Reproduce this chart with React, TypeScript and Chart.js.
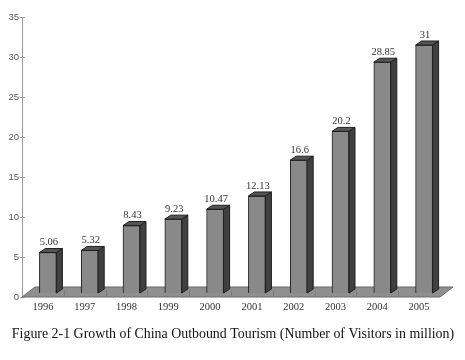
import React, { useEffect, useRef } from "react";
import { Chart, registerables } from "chart.js";

Chart.register(...registerables);

const years = ["1996", "1997", "1998", "1999", "2000", "2001", "2002", "2003", "2004", "2005"];
const visitors = [5.06, 5.32, 8.43, 9.23, 10.47, 12.13, 16.6, 20.2, 28.85, 31];
const valueLabels = ["5.06", "5.32", "8.43", "9.23", "10.47", "12.13", "16.6", "20.2", "28.85", "31"];
const yTicks = [0, 5, 10, 15, 20, 25, 30, 35];
const caption = "Figure 2-1 Growth of China Outbound Tourism (Number of Visitors in million)";

const SHIFT_X = 5;
const SHIFT_Y = -4;
const DEPTH_X = 6;
const DEPTH_Y = -4;
const FLOOR_X = 13;
const FLOOR_Y = -10;

const bar3d = {
  id: "bar3d",
  beforeDatasetsDraw(chart: any) {
    const { ctx, chartArea } = chart;
    const l = chartArea.left, r = chartArea.right, b = chartArea.bottom;
    ctx.save();
    ctx.beginPath();
    ctx.moveTo(l, b);
    ctx.lineTo(r, b);
    ctx.lineTo(r + FLOOR_X, b + FLOOR_Y);
    ctx.lineTo(l + FLOOR_X, b + FLOOR_Y);
    ctx.closePath();
    ctx.fillStyle = "#8f8f8f";
    ctx.fill();
    ctx.strokeStyle = "#6a6a6a";
    ctx.lineWidth = 1;
    ctx.stroke();
    const n = years.length;
    const w = (r - l) / n;
    ctx.strokeStyle = "#7a7a7a";
    for (let i = 1; i < n; i++) {
      const x = Math.round(l + w * i) + 0.5;
      ctx.beginPath();
      ctx.moveTo(x, b);
      ctx.lineTo(x, b - 6);
      ctx.stroke();
    }
    ctx.restore();
    const ys = chart.scales.y;
    ctx.save();
    ctx.strokeStyle = "#999";
    ctx.lineWidth = 1;
    yTicks.forEach((v) => {
      const y = Math.round(ys.getPixelForValue(v)) + 0.5;
      ctx.beginPath();
      ctx.moveTo(l - 2, y);
      ctx.lineTo(l + 3, y);
      ctx.stroke();
    });
    ctx.restore();
    ctx.save();
    ctx.translate(SHIFT_X, SHIFT_Y);
  },
  afterDatasetsDraw(chart: any) {
    const { ctx } = chart;
    ctx.restore();
    const meta = chart.getDatasetMeta(0);
    ctx.save();
    ctx.lineWidth = 1;
    ctx.strokeStyle = "#1e1e1e";
    meta.data.forEach((el: any, i: number) => {
      const h = el.width / 2;
      const x = el.x + SHIFT_X;
      const y = el.y + SHIFT_Y;
      const base = el.base + SHIFT_Y;
      ctx.beginPath();
      ctx.moveTo(x + h, y);
      ctx.lineTo(x + h + DEPTH_X, y + DEPTH_Y);
      ctx.lineTo(x + h + DEPTH_X, base + DEPTH_Y);
      ctx.lineTo(x + h, base);
      ctx.closePath();
      ctx.fillStyle = "#404040";
      ctx.fill();
      ctx.stroke();
      ctx.beginPath();
      ctx.moveTo(x - h, y);
      ctx.lineTo(x + h, y);
      ctx.lineTo(x + h + DEPTH_X, y + DEPTH_Y);
      ctx.lineTo(x - h + DEPTH_X, y + DEPTH_Y);
      ctx.closePath();
      ctx.fillStyle = "#555555";
      ctx.fill();
      ctx.stroke();
      ctx.fillStyle = "#333";
      ctx.font = "10.5px 'Liberation Serif', serif";
      ctx.textAlign = "center";
      ctx.textBaseline = "middle";
      ctx.fillText(valueLabels[i], el.x + 6, el.y - 14);
    });
    ctx.restore();
  },
  afterDraw(chart: any) {
    const { ctx } = chart;
    ctx.save();
    ctx.fillStyle = "#111";
    ctx.font = "13.9px 'Liberation Serif', serif";
    ctx.textAlign = "center";
    ctx.textBaseline = "alphabetic";
    ctx.fillText(caption, 233, 338);
    ctx.restore();
  },
};

export default function App() {
  const ref = useRef<HTMLCanvasElement | null>(null);
  useEffect(() => {
    if (!ref.current) return;
    const chart = new Chart(ref.current, {
      type: "bar",
      data: {
        labels: years,
        datasets: [
          {
            data: visitors,
            backgroundColor: "#898989",
            borderColor: "#1e1e1e",
            borderWidth: 1,
            barThickness: 17,
          },
        ],
      },
      options: {
        responsive: false,
        animation: false,
        layout: { padding: { top: 17, right: 25, left: 0, bottom: 0 } },
        plugins: { legend: { display: false }, tooltip: { enabled: false }, title: { display: false } },
        scales: {
          x: {
            offset: true,
            grid: { display: false, drawTicks: false },
            border: { display: false },
            ticks: {
              color: "#333",
              font: { family: "'Liberation Serif', serif", size: 10.5 },
              padding: 4,
              maxRotation: 0,
              autoSkip: false,
            },
            afterFit: (s: any) => {
              s.height = 63;
            },
          },
          y: {
            min: 0,
            max: 35,
            ticks: {
              stepSize: 5,
              color: "#555",
              font: { family: "'Liberation Sans', sans-serif", size: 9.5 },
              padding: 3,
            },
            grid: { display: false, drawTicks: false },
            border: { display: true, color: "#999", width: 1 },
            afterFit: (s: any) => {
              s.width = 22;
            },
          },
        },
      },
      plugins: [bar3d],
    });
    return () => chart.destroy();
  }, []);
  return (
    <div style={{ position: "absolute", left: 0, top: 0, width: 465, height: 360, background: "#fff" }}>
      <canvas ref={ref} width={465} height={360} />
    </div>
  );
}
